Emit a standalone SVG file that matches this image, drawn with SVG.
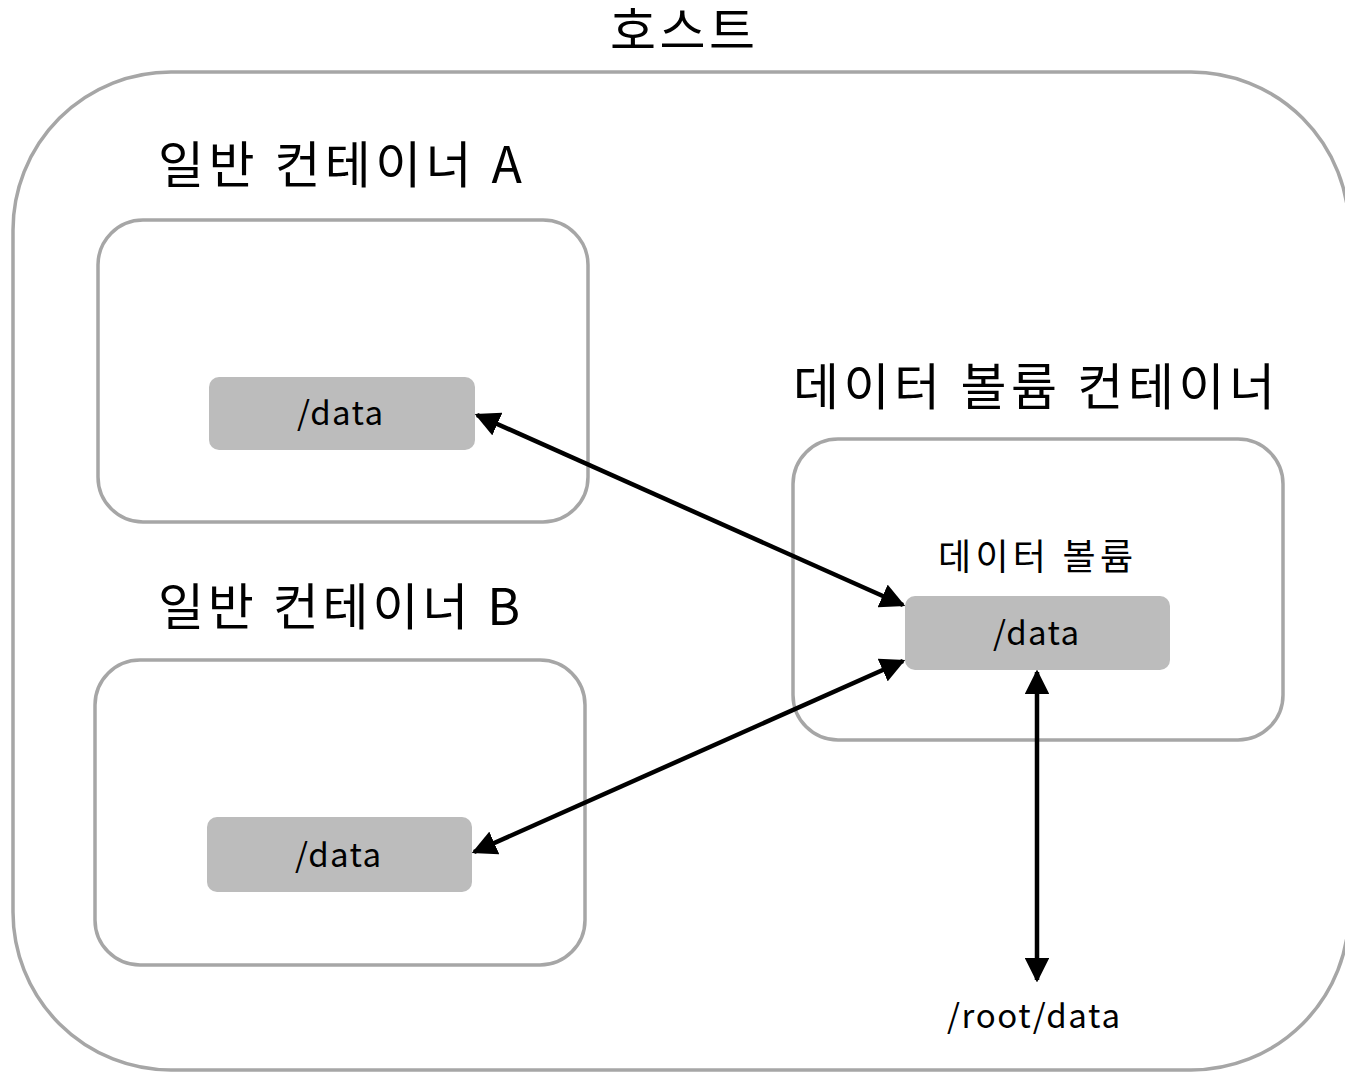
<svg xmlns="http://www.w3.org/2000/svg" width="1345" height="1073" viewBox="0 0 1345 1073">
<style>
.box{fill:none;stroke:#a6a6a6;stroke-width:3.5}
.d{fill:#bcbcbc}
.t{font-family:"Noto Sans CJK KR","Noto Sans",sans-serif;fill:#000}
.big{font-size:50px}
.sm{font-size:33px}
.smk{font-size:36px}
.c{stroke:#000;stroke-width:4.5;fill:none;marker-start:url(#ah);marker-end:url(#ah)}
</style>
<defs>
<marker id="ah" viewBox="0 0 10 10" refX="9" refY="5" markerWidth="5.5" markerHeight="5.5" orient="auto-start-reverse" markerUnits="strokeWidth">
<path d="M0,0 L10,5 L0,10 z" fill="#000"/>
</marker>
</defs>
<rect width="1345" height="1073" fill="#fff"/>
<g id="host">
<rect class="box" x="13" y="72" width="1336" height="998" rx="158"/>
<text class="t big" x="610" y="49" textLength="145" lengthAdjust="spacing">호스트</text>
</g>
<g id="containerA">
<rect class="box" x="98" y="220" width="490" height="302" rx="45"/>
<text class="t big" x="158" y="183" textLength="364" lengthAdjust="spacing">일반 컨테이너 A</text>
</g>
<g id="dataA">
<rect class="d" x="209" y="377" width="266" height="73" rx="10"/>
<text class="t sm" x="297" y="425" textLength="86" lengthAdjust="spacing">/data</text>
</g>
<g id="containerB">
<rect class="box" x="95" y="660" width="490" height="305" rx="45"/>
<text class="t big" x="158" y="625" textLength="362" lengthAdjust="spacing">일반 컨테이너 B</text>
</g>
<g id="dataB">
<rect class="d" x="207" y="817" width="265" height="75" rx="10"/>
<text class="t sm" x="295" y="867" textLength="86" lengthAdjust="spacing">/data</text>
</g>
<g id="volContainer">
<rect class="box" x="793" y="439" width="490" height="301" rx="45"/>
<text class="t big" x="793" y="405" textLength="482" lengthAdjust="spacing">데이터 볼륨 컨테이너</text>
<text class="t smk" x="938" y="570" textLength="195" lengthAdjust="spacing">데이터 볼륨</text>
</g>
<g id="dataV">
<rect class="d" x="905" y="596" width="265" height="74" rx="10"/>
<text class="t sm" x="993" y="645" textLength="86" lengthAdjust="spacing">/data</text>
</g>
<g id="rootData">
<text class="t sm" x="947" y="1028" textLength="173" lengthAdjust="spacing">/root/data</text>
</g>
<g id="connectors">
<line class="c" x1="477" y1="415" x2="903" y2="605"/>
<line class="c" x1="903" y1="661" x2="474" y2="852"/>
<line class="c" x1="1037" y1="672" x2="1037" y2="980"/>
</g>
</svg>
